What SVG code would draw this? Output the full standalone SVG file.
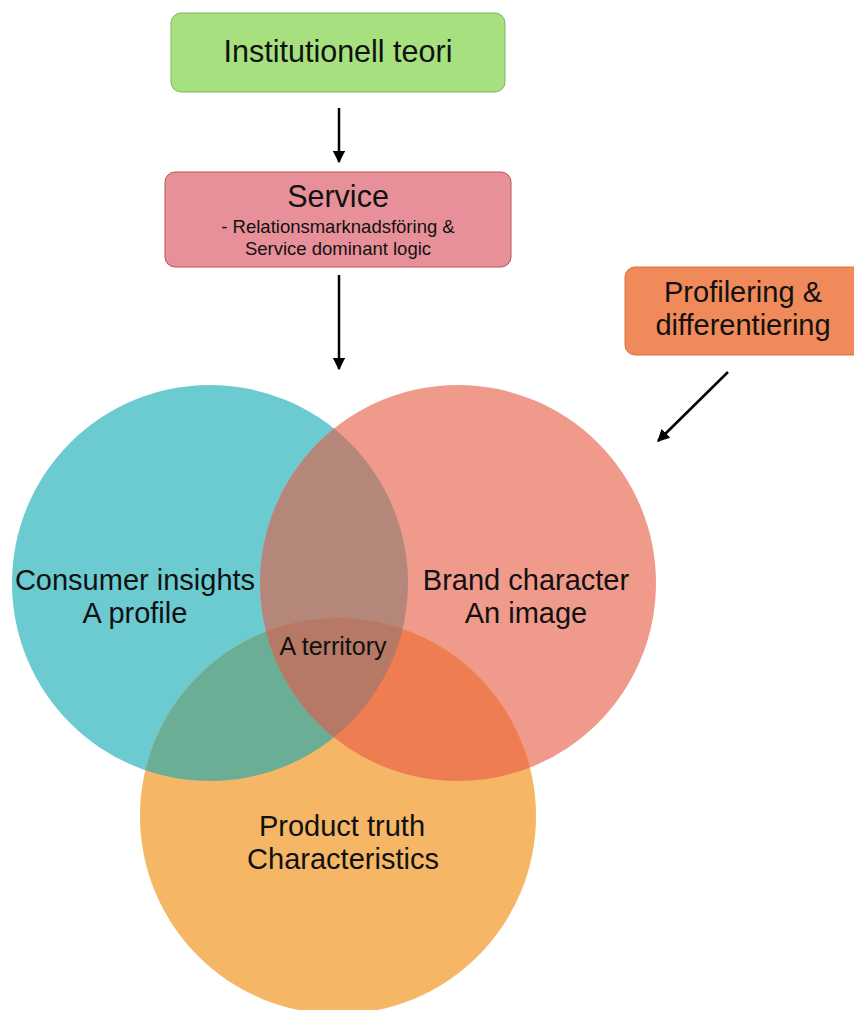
<svg xmlns="http://www.w3.org/2000/svg" width="854" height="1010" viewBox="0 0 854 1010">
<style>
.t{font-family:"Liberation Sans",Arial,sans-serif;fill:#111;text-anchor:middle}
.big{font-size:29px}
.sub{font-size:18.5px}
.conn{stroke:#000;stroke-width:2.5;fill:none;marker-end:url(#ah)}
</style>
<defs>
<marker id="ah" viewBox="0 0 10 10" refX="9" refY="5" markerWidth="5" markerHeight="5" orient="auto" markerUnits="strokeWidth">
<path d="M0,0 L10,5 L0,10 Z" fill="#000"/>
</marker>
<clipPath id="cA"><circle cx="210" cy="583" r="198"/></clipPath>
<clipPath id="cB"><circle cx="458" cy="583" r="198"/></clipPath>
<clipPath id="cAB" clip-path="url(#cA)"><circle cx="458" cy="583" r="198"/></clipPath>
</defs>
<rect width="854" height="1010" fill="#fff"/>
<g id="venn">
<circle cx="210" cy="583" r="198" fill="#6ccbd1"/>
<circle cx="458" cy="583" r="198" fill="#f09a8c"/>
<circle cx="338" cy="816" r="198" fill="#f5b666"/>
<circle cx="458" cy="583" r="198" fill="#b5877b" clip-path="url(#cA)"/>
<circle cx="338" cy="816" r="198" fill="#6aae95" clip-path="url(#cA)"/>
<circle cx="338" cy="816" r="198" fill="#ee7d52" clip-path="url(#cB)"/>
<circle cx="338" cy="816" r="198" fill="#b57966" clip-path="url(#cAB)"/>
</g>
<g id="consumer">
<text class="t big" x="135" y="590">Consumer insights</text>
<text class="t big" x="135" y="623">A profile</text>
</g>
<g id="brand">
<text class="t big" x="526" y="590">Brand character</text>
<text class="t big" x="526" y="623">An image</text>
</g>
<g id="product">
<text class="t big" x="342" y="836">Product truth</text>
<text class="t big" x="343" y="869">Characteristics</text>
</g>
<g id="territory">
<text class="t" style="font-size:25px" x="333" y="655">A territory</text>
</g>
<g id="institutionell">
<rect x="171" y="13" width="334" height="79" rx="10" fill="#a6e07f" stroke="#82b366" stroke-width="1"/>
<text class="t" style="font-size:30.5px" x="338" y="62">Institutionell teori</text>
</g>
<g id="service">
<rect x="165" y="172" width="346" height="95" rx="10" fill="#e8909a" stroke="#b85450" stroke-width="1"/>
<text class="t" style="font-size:30.5px" x="338" y="207">Service</text>
<text class="t sub" x="338" y="233">- Relationsmarknadsföring &amp;</text>
<text class="t sub" x="338" y="255">Service dominant logic</text>
</g>
<g id="profilering">
<rect x="625" y="267" width="240" height="88" rx="10" fill="#f08a5a" stroke="#d6733f" stroke-width="1"/>
<text class="t big" x="743" y="302">Profilering &amp;</text>
<text class="t big" x="743" y="335">differentiering</text>
</g>
<g id="connectors">
<line class="conn" x1="339" y1="108" x2="339" y2="162"/>
<line class="conn" x1="339" y1="275" x2="339" y2="369"/>
<line class="conn" x1="728" y1="372" x2="658" y2="441"/>
</g>
</svg>
